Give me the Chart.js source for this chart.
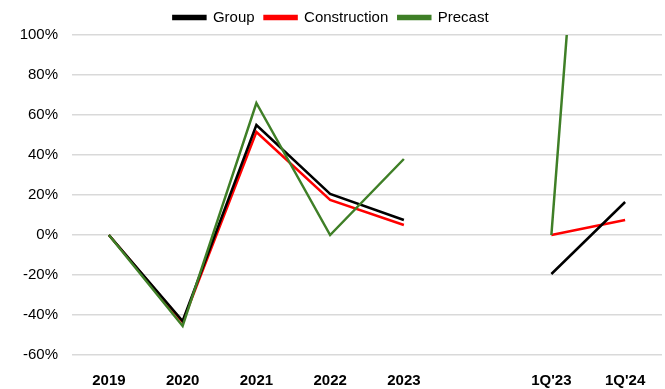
<!DOCTYPE html>
<html>
<head>
<meta charset="utf-8">
<script src="https://cdn.jsdelivr.net/npm/chart.js@4/dist/chart.umd.min.js"></script>
<style>
  html, body { margin: 0; padding: 0; background: #fff; }
  #wrap { width: 665px; height: 389px; }
</style>
</head>
<body>
<div id="wrap"><canvas id="growthChart"></canvas></div>
<script>
// categories (blank slot between the years and the quarters)
const labels = ['2019', '2020', '2021', '2022', '2023', '', "1Q'23", "1Q'24"];

// values in %
const groupValues = [0, -43, 55, 20.5, 7.5, null, -19.5, 16.5];
const constructionValues = [0, -43.5, 51.5, 17.5, 5, null, 0, 7.5];
const precastValues = [0, -45.5, 66, 0, 38, null, 0, 480];

const yTicks = { min: -60, max: 100, step: 20 };

const font = "'Liberation Sans Narrow', 'Arial Narrow', 'Liberation Sans', Arial, sans-serif";

document.addEventListener("DOMContentLoaded", function() {
  const ctx = document.getElementById('growthChart').getContext('2d');

  new Chart(ctx, {
    type: 'line',
    data: {
      labels: labels,
      datasets: [{
        label: 'Group',
        data: groupValues,
        borderColor: '#000000',
        backgroundColor: '#000000',
        borderWidth: 2.5,
        order: 1
      }, {
        label: 'Construction',
        data: constructionValues,
        borderColor: '#ff0000',
        backgroundColor: '#ff0000',
        borderWidth: 2.5,
        order: 2
      }, {
        label: 'Precast',
        data: precastValues,
        borderColor: '#3f7f27',
        backgroundColor: '#3f7f27',
        borderWidth: 2.5,
        order: 0
      }]
    },
    options: {
      responsive: true,
      maintainAspectRatio: false,
      animation: false,
      spanGaps: false,
      elements: {
        point: { radius: 0, hoverRadius: 0 },
        line: { tension: 0, fill: false }
      },
      layout: { padding: { top: 0, right: 3, bottom: 0, left: 0 } },
      plugins: {
        tooltip: { enabled: false },
        legend: {
          position: 'top',
          labels: {
            boxWidth: 32,
            boxHeight: 3,
            padding: 10,
            color: '#000',
            font: { family: font, size: 15 },
            sort: function (a, b) { return a.datasetIndex - b.datasetIndex; }
          }
        }
      },
      scales: {
        x: {
          offset: true,
          grid: { display: false },
          border: { display: false },
          afterFit: function (scale) { scale.height = 34; },
          ticks: {
            color: '#000',
            font: { family: font, size: 15, weight: 'bold' },
            maxRotation: 0,
            autoSkip: false,
            padding: 9
          }
        },
        y: {
          min: yTicks.min,
          max: yTicks.max,
          border: { display: false },
          grid: { color: '#d9d9d9', lineWidth: 1.5, drawTicks: false },
          afterFit: function (scale) { scale.width = 72; },
          ticks: {
            stepSize: yTicks.step,
            color: '#000',
            padding: 14,
            font: { family: font, size: 15 },
            callback: function (v) { return v + '%'; }
          }
        }
      }
    }
  });
});
</script>
</body>
</html>
